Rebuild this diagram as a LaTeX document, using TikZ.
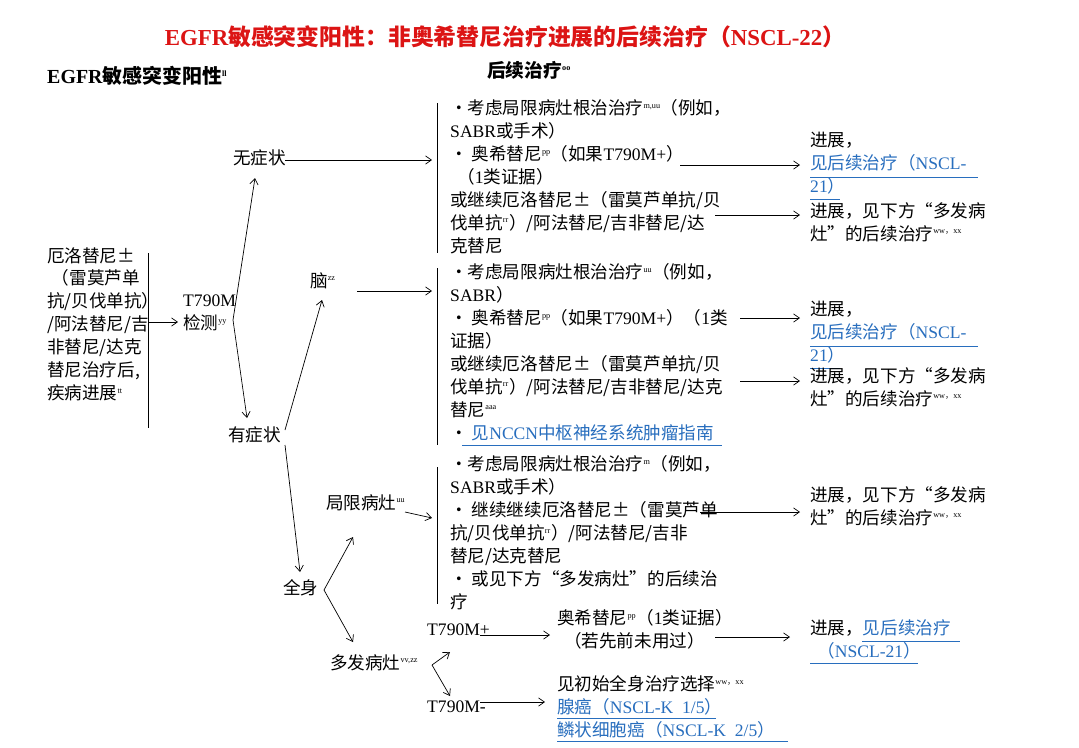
\documentclass[tikz,border=0pt]{standalone}
\usepackage{fontspec}
\setmainfont{Noto Sans CJK SC}
\newfontfamily\lat{Liberation Serif}
\usetikzlibrary{arrows.meta}
\definecolor{lnk}{RGB}{40,110,190}
\definecolor{ttl}{RGB}{220,20,20}
\newcommand{\sps}[1]{\textsuperscript{\lat\scriptsize #1}}
\newcommand{\spw}{\textsuperscript{\scriptsize{\lat ww}，{\lat xx}}}
\newcommand{\lk}[1]{\textcolor{lnk}{#1}}
\begin{document}
\begin{tikzpicture}[x=0.03cm,y=-0.03cm,
  txt/.style={anchor=north west,inner sep=0pt,align=left,font=\fontsize{15}{19.6}\selectfont},
  arr/.style={-{Straight Barb[length=5pt,width=7pt]},line width=0.6pt},
  ln/.style={line width=0.6pt},
  ul/.style={lnk,line width=0.8pt}]
\useasboundingbox (0,0) rectangle (1079,748);
\fill[white] (0,0) rectangle (1079,748);
\node[anchor=center,text=ttl,font=\fontsize{19.5}{22}\selectfont\bfseries] (title) at (505,37) {{\lat\bfseries EGFR}敏感突变阳性：非奥希替尼治疗进展的后续治疗（{\lat\bfseries NSCL-22}）};
\node[txt,font=\fontsize{17}{18}\selectfont\bfseries] (h1) at (47,66) {{\lat\bfseries EGFR}敏感突变阳性\sps{ll}};
\node[txt,font=\fontsize{16}{18}\selectfont\bfseries] (h2) at (487,61) {后续治疗\sps{oo}};
% left
\node[txt] (start) at (47,247) {厄洛替尼±\\\hspace*{4pt}（雷莫芦单\\抗/贝伐单抗）\\/阿法替尼/吉\\非替尼/达克\\替尼治疗后,\\疾病进展\sps{tt}};
\draw[ln] (148,253) -- (148,428);
\node[txt] (t790) at (183,295) {{\lat T790M}\\检测\sps{yy}};
\coordinate (sb) at (148,322);
\draw[arr] (sb) -- (178,322);
\coordinate (br) at (233,320);
\node[txt] (asym) at (233,149) {无症状};
\node[txt] (sym) at (228,426) {有症状};
\draw[ln,-{Straight Barb[length=5pt,width=7pt]}] (br) -- (255,178);
\draw[arr] (br) -- (247,418);
\draw[arr] (285,160) -- (432,160);
\draw[ln] (437,103) -- (437,253);
\node[txt] (b1) at (450,99) {•考虑局限病灶根治治疗\sps{m,uu}（例如，\\{\lat SABR}或手术）\\• 奥希替尼\sps{pp}（如果{\lat T790M+}）\\\hspace*{6pt}（{\lat 1}类证据）\\或继续厄洛替尼±（雷莫芦单抗/贝\\伐单抗\sps{rr}）/阿法替尼/吉非替尼/达\\克替尼};
\node[txt] (r1) at (810,132) {进展，\\\lk{见后续治疗（{\lat NSCL-}}\\\lk{{\lat 21}）}};
\draw[ul] (810,177)--(978,177); \draw[ul] (810,199)--(840,199);
\draw[arr] (680,165) -- (800,165);
\node[txt] (r2) at (810,202) {进展，见下方“多发病\\灶”的后续治疗\spw};
\draw[arr] (715,215) -- (800,215);
% brain
\node[txt] (brain) at (310,272) {脑\sps{zz}};
\draw[arr] (357,291) -- (432,291);
\draw[ln] (437,268) -- (437,445);
\draw[arr] (285,430) -- (322,300);
\node[txt] (b2) at (450,263) {•考虑局限病灶根治治疗\sps{uu}（例如，\\{\lat SABR}）\\• 奥希替尼\sps{pp}（如果{\lat T790M+}）（{\lat 1}类\\证据）\\或继续厄洛替尼±（雷莫芦单抗/贝\\伐单抗\sps{rr}）/阿法替尼/吉非替尼/达克\\替尼\sps{aaa}\\• \lk{见{\lat NCCN}中枢神经系统肿瘤指南}};
\draw[ul] (462,445)--(722,445);
\node[txt] (r3) at (810,301) {进展，\\\lk{见后续治疗（{\lat NSCL-}}\\\lk{{\lat 21}）}};
\draw[ul] (810,346)--(978,346); \draw[ul] (810,368)--(840,368);
\draw[arr] (740,318) -- (800,318);
\node[txt] (r4) at (810,367) {进展，见下方“多发病\\灶”的后续治疗\spw};
\draw[arr] (740,381) -- (800,381);
% systemic
\draw[arr] (285,445) -- (300,572);
\node[txt] (body) at (283,579) {全身};
\coordinate (bb) at (324,590);
\draw[arr] (bb) -- (353,537);
\draw[arr] (bb) -- (353,642);
\node[txt] (loc) at (326,494) {局限病灶\sps{uu}};
\draw[arr] (405,512) -- (432,518);
\draw[ln] (437,467) -- (437,604);
\node[txt] (b3) at (450,455) {•考虑局限病灶根治治疗\sps{m}（例如，\\{\lat SABR}或手术）\\• 继续继续厄洛替尼±（雷莫芦单\\抗/贝伐单抗\sps{rr}）/阿法替尼/吉非\\替尼/达克替尼\\• 或见下方“多发病灶”的后续治\\疗};
\node[txt] (r5) at (810,486) {进展，见下方“多发病\\灶”的后续治疗\spw};
\draw[arr] (700,512) -- (800,512);
\node[txt] (multi) at (330,654) {多发病灶\sps{vv,zz}};
\coordinate (mb) at (432,665);
\draw[arr] (mb) -- (450,652);
\draw[arr] (mb) -- (450,696);
\node[txt] (pos) at (427,624) {{\lat T790M+}};
\node[txt] (neg) at (427,701) {{\lat T790M-}};
\draw[arr] (480,635) -- (550,635);
\node[txt] (osi) at (557,609) {奥希替尼\sps{pp}（{\lat 1}类证据）\\\hspace*{6pt}（若先前未用过）};
\draw[arr] (715,637) -- (790,637);
\node[txt] (r6) at (810,619) {进展，\lk{见后续治疗}\\\lk{\hspace*{6pt}（{\lat NSCL-21}）}};
\draw[ul] (862,641)--(960,641); \draw[ul] (810,663)--(918,663);
\draw[arr] (480,702) -- (545,702);
\node[txt] (init) at (557,675) {见初始全身治疗选择\spw\\\lk{腺癌（{\lat NSCL-K\ \ 1/5}）}\\\lk{鳞状细胞癌（{\lat NSCL-K\ \ 2/5}）}};
\draw[ul] (557,718)--(716,718); \draw[ul] (557,741)--(788,741);
\end{tikzpicture}
\end{document}
